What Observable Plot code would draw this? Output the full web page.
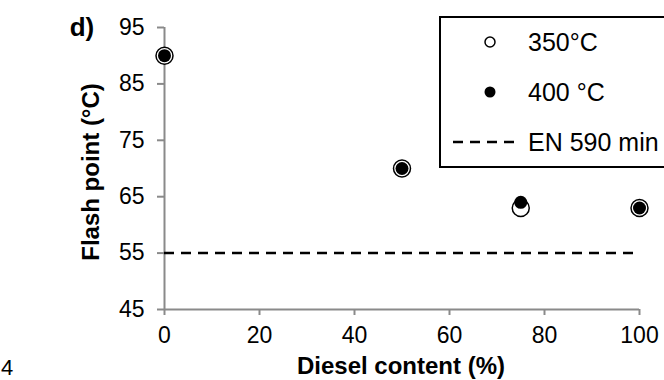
<!DOCTYPE html>
<html>
<head>
<meta charset="utf-8">
<script src="https://cdn.jsdelivr.net/npm/d3@7"></script>
<script src="https://cdn.jsdelivr.net/npm/@observablehq/plot@0.6"></script>
<style>
  html, body { margin: 0; padding: 0; background: #fff; }
  #wrap { position: relative; width: 664px; height: 380px; overflow: hidden; font-family: "Liberation Sans", Arial, sans-serif; }
  #legend { position: absolute; left: 439px; top: 16px; }
</style>
</head>
<body>
<div id="wrap"></div>
<script>
// ---- data ----
const dieselContent = [0, 50, 75, 100];
const flash350 = [90, 70, 63, 63];
const flash400 = [90, 70, 64, 63];
const en590Min = 55;
const xTicks = [0, 20, 40, 60, 80, 100];
const yTicks = [45, 55, 65, 75, 85, 95];
const legendLabels = ["350°C", "400 °C", "EN 590 min"];
const panelLabel = "d)";
const pageNumber = "4";
const xTitle = "Diesel content (%)";
const yTitle = "Flash point (°C)";

const rows350 = dieselContent.map((d, i) => ({x: d, y: flash350[i]}));
const rows400 = dieselContent.map((d, i) => ({x: d, y: flash400[i]}));

const FONT = '"Liberation Sans", Arial, sans-serif';
const GREY = "#8a8a8a";

const chart = Plot.plot({
  width: 664,
  height: 380,
  marginLeft: 164,
  marginRight: 25,
  marginTop: 27,
  marginBottom: 71,
  style: {fontFamily: FONT, fontSize: "23px", background: "white", overflow: "visible"},
  x: {domain: [0, 100]},
  y: {domain: [45, 95]},
  marks: [
    Plot.ruleX([0], {stroke: GREY, strokeWidth: 2}),
    Plot.ruleY([45], {stroke: GREY, strokeWidth: 2}),
    Plot.axisX({ticks: xTicks, tickSize: 6, tickPadding: 11, stroke: GREY, strokeWidth: 2, fill: "black", fontSize: 23, label: null}),
    Plot.axisY({ticks: yTicks, tickSize: 7, tickPadding: 13, stroke: GREY, strokeWidth: 2, fill: "black", fontSize: 23, label: null}),
    Plot.ruleY([en590Min], {x1: 0, x2: 100, stroke: "black", strokeWidth: 2.5, strokeDasharray: "10,7"}),
    Plot.dot(rows350, {x: "x", y: "y", r: 8.5, fill: "white", stroke: "black", strokeWidth: 1.5}),
    Plot.dot(rows400, {x: "x", y: "y", r: 6.5, fill: "black", stroke: "none"})
  ]
});

const wrap = document.getElementById("wrap");
wrap.appendChild(chart);

const svg = d3.select(chart);
// panel label
svg.append("text").attr("x", 82).attr("y", 36)
  .attr("font-family", FONT).attr("font-size", 26).attr("font-weight", "bold")
  .text(panelLabel);
// x title
svg.append("text").attr("x", 401).attr("y", 374)
  .attr("text-anchor", "middle")
  .attr("font-family", FONT).attr("font-size", 24).attr("font-weight", "bold")
  .text(xTitle);
// y title
svg.append("text").attr("transform", "translate(99,172) rotate(-90)")
  .attr("text-anchor", "middle")
  .attr("font-family", FONT).attr("font-size", 24).attr("font-weight", "bold")
  .text(yTitle);
// page number
svg.append("text").attr("x", 7).attr("y", 375)
  .attr("font-family", FONT).attr("font-size", 22)
  .text(pageNumber);

// legend
const leg = d3.select(wrap).append("svg").attr("id", "legend")
  .attr("width", 240).attr("height", 153)
  .style("font-family", FONT);
leg.append("rect").attr("x", 1).attr("y", 1).attr("width", 260).attr("height", 150)
  .attr("fill", "white").attr("stroke", "black").attr("stroke-width", 2);
const rowY = [26, 76, 126];
leg.append("circle").attr("cx", 51).attr("cy", rowY[0]).attr("r", 5)
  .attr("fill", "white").attr("stroke", "black").attr("stroke-width", 1.5);
leg.append("circle").attr("cx", 51).attr("cy", rowY[1]).attr("r", 5.5)
  .attr("fill", "black");
leg.append("line").attr("x1", 14).attr("x2", 82).attr("y1", rowY[2]).attr("y2", rowY[2])
  .attr("stroke", "black").attr("stroke-width", 2.5).attr("stroke-dasharray", "10,7");
legendLabels.forEach((t, i) => {
  leg.append("text").attr("x", 89).attr("y", rowY[i]).attr("dy", "0.36em")
    .attr("font-size", 25).attr("fill", "black").text(t);
});
</script>
</body>
</html>
